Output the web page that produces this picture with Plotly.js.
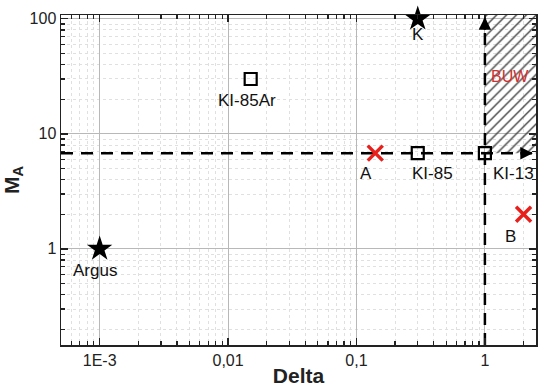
<!DOCTYPE html>
<html><head><meta charset="utf-8">
<script src="https://cdn.plot.ly/plotly-3.0.1.min.js"></script>
<style>html,body{margin:0;padding:0;background:#fff}#c{width:541px;height:387px}</style>
</head><body><div id="c"></div>
<script>
// Data
const starNames = ["Argus", "K"];
const starDelta = [0.001, 0.3];
const starMA = [1, 100];

const squareNames = ["KI-85Ar", "KI-85", "KI-13"];
const squareDelta = [0.015, 0.3, 1.0];
const squareMA = [30, 6.8, 6.8];

const crossNames = ["A", "B"];
const crossDelta = [0.14, 2.0];
const crossMA = [6.8, 2];

const deltaThreshold = 1;
const maThreshold = 6.8;
const xRange = [0.0005, 2.5];
const yRange = [0.146, 108];

const xTickVals = [0.001, 0.01, 0.1, 1];
const xTickText = ["1E-3", "0,01", "0,1", "1"];
const yTickVals = [1, 10, 100];
const yTickText = ["1", "10", "100"];

const L = Math.log10;
const F = "Liberation Sans, Arial, sans-serif";

const traces = [
  // hatched BUW region
  {x:[deltaThreshold, xRange[1], xRange[1], deltaThreshold, deltaThreshold],
   y:[maThreshold, maThreshold, yRange[1], yRange[1], maThreshold],
   type:'scatter', mode:'lines', fill:'toself', line:{width:0, color:'rgba(0,0,0,0)'},
   fillcolor:'rgba(255,255,255,0)',
   fillpattern:{shape:'/', fgcolor:'#444', bgcolor:'rgba(255,255,255,0)', size:7, solidity:0.2},
   hoverinfo:'skip', showlegend:false},
  // dashed threshold lines
  {x:[xRange[0], xRange[1]*0.93], y:[maThreshold, maThreshold], type:'scatter', mode:'lines',
   line:{color:'#000', width:2.5, dash:'12px,8px'}, showlegend:false},
  {x:[deltaThreshold, deltaThreshold], y:[yRange[0], yRange[1]*0.93], type:'scatter', mode:'lines',
   line:{color:'#000', width:2.5, dash:'12px,8px'}, showlegend:false},
  // markers
  {x:starDelta, y:starMA, type:'scatter', mode:'markers', cliponaxis:false,
   marker:{symbol:'star', size:19, color:'#000'}, showlegend:false},
  {x:squareDelta, y:squareMA, type:'scatter', mode:'markers', cliponaxis:false,
   marker:{symbol:'square-open', size:12, color:'#000', line:{width:2.2, color:'#000'}}, showlegend:false},
  {x:crossDelta, y:crossMA, type:'scatter', mode:'markers', cliponaxis:false,
   marker:{symbol:'x-thin-open', size:15, color:'#e8201c', line:{width:3.5, color:'#e8201c'}}, showlegend:false}
];

const lab = (name, dx, dy, px, py) => ({
  x:L(dx), y:L(dy), xref:'x', yref:'y', text:name, showarrow:false,
  xshift:px, yshift:py, xanchor:'center', yanchor:'middle',
  font:{family:F, size:17, color:'#111'}
});

const annotations = [];
const starOff = [[-5,-22],[0,-16]];
starNames.forEach((n,i)=>annotations.push(lab(n, starDelta[i], starMA[i], starOff[i][0], starOff[i][1])));
const sqOff = [[-4,-22],[15,-20],[29,-20]];
squareNames.forEach((n,i)=>annotations.push(lab(n, squareDelta[i], squareMA[i], sqOff[i][0], sqOff[i][1])));
const crOff = [[-9,-20],[-13,-22]];
crossNames.forEach((n,i)=>annotations.push(lab(n, crossDelta[i], crossMA[i], crOff[i][0], crOff[i][1])));
// BUW text
annotations.push({x:L(Math.sqrt(deltaThreshold*xRange[1])), y:L(Math.sqrt(maThreshold*yRange[1]))+0.07,
  xref:'x', yref:'y', text:'BUW', showarrow:false, font:{family:F, size:16, color:'#d03030'}});
// arrow heads
annotations.push({x:L(xRange[1])-0.025, y:L(maThreshold), xref:'x', yref:'y', ax:-14, ay:0, text:'',
  showarrow:true, arrowhead:2, arrowsize:1, arrowwidth:2.5, arrowcolor:'#000'});
annotations.push({x:L(deltaThreshold), y:L(yRange[1])-0.02, xref:'x', yref:'y', ax:0, ay:14, text:'',
  showarrow:true, arrowhead:2, arrowsize:1, arrowwidth:2.5, arrowcolor:'#000'});

const layout = {
  width:541, height:387,
  margin:{l:61, r:5, t:15, b:42},
  paper_bgcolor:'#fff', plot_bgcolor:'#fff',
  showlegend:false,
  font:{family:F, color:'#222'},
  xaxis:{type:'log', range:[L(xRange[0]), L(xRange[1])],
    tickvals:xTickVals, ticktext:xTickText, tickfont:{size:16, family:F, color:'#222'},
    ticks:'inside', ticklen:7, tickwidth:1.3, tickcolor:'#222',
    showline:true, linecolor:'#222', linewidth:1.5, mirror:'allticks',
    showgrid:true, gridcolor:'#b8b8b8', gridwidth:1,
    minor:{dtick:'D1', ticks:'inside', ticklen:4, tickcolor:'#222', showgrid:true, gridcolor:'#e0e0e0', griddash:'dot', gridwidth:1},
    zeroline:false,
    title:{text:'<b>Delta</b>', font:{size:21, family:F, color:'#222'}, standoff:2}},
  yaxis:{type:'log', range:[L(yRange[0]), L(yRange[1])],
    tickvals:yTickVals, ticktext:yTickText, tickfont:{size:16, family:F, color:'#222'},
    ticks:'inside', ticklen:7, tickwidth:1.3, tickcolor:'#222',
    showline:true, linecolor:'#222', linewidth:1.5, mirror:'allticks',
    showgrid:true, gridcolor:'#b8b8b8', gridwidth:1,
    minor:{dtick:'D1', ticks:'inside', ticklen:4, tickcolor:'#222', showgrid:true, gridcolor:'#e0e0e0', griddash:'dot', gridwidth:1},
    zeroline:false,
    title:{text:'<b>M<sub>A</sub></b>', font:{size:21, family:F, color:'#222'}, standoff:8}},
  annotations:annotations
};

Plotly.newPlot('c', traces, layout, {displayModeBar:false, staticPlot:true});
</script></body></html>
